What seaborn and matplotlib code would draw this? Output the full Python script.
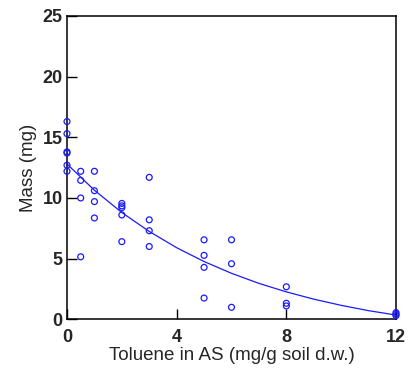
import matplotlib
matplotlib.use("Agg")
import matplotlib.pyplot as plt
import seaborn as sns
import pandas as pd

# Observed data (toluene dose vs mass)
toluene = [0, 0, 0, 0, 0, 0,
           0.5, 0.5, 0.5, 0.5,
           1, 1, 1, 1,
           2, 2, 2, 2, 2,
           3, 3, 3, 3,
           5, 5, 5, 5,
           6, 6, 6,
           8, 8, 8,
           12, 12, 12]
mass = [16.3, 15.3, 13.8, 13.7, 12.7, 12.2,
        12.2, 11.45, 10.0, 5.15,
        12.2, 10.6, 9.7, 8.35,
        9.55, 9.35, 9.2, 8.6, 6.4,
        11.7, 8.2, 7.3, 6.0,
        6.55, 5.27, 4.28, 1.75,
        6.55, 4.58, 0.99,
        2.68, 1.32, 1.1,
        0.55, 0.41, 0.3]

# Fitted curve
fit_x = [0, 1, 2, 3, 4, 5, 6, 7, 8, 9, 10, 11, 12]
fit_y = [12.8, 10.64, 8.8, 7.24, 5.9, 4.76, 3.79, 2.96, 2.26, 1.66, 1.15, 0.71, 0.35]

x_ticks = [0, 4, 8, 12]
y_ticks = [0, 5, 10, 15, 20, 25]

sns.set_style("white")
plt.rcParams['font.family'] = ['Liberation Sans', 'DejaVu Sans']

df = pd.DataFrame({"x": toluene, "y": mass})
fit = pd.DataFrame({"x": fit_x, "y": fit_y})

fig = plt.figure(figsize=(4.11, 3.72), dpi=100)
ax = fig.add_axes([0.163, 0.1417, 0.8005, 0.8153])

sns.lineplot(data=fit, x="x", y="y", ax=ax, color=(0.1, 0.1, 1.0), lw=0.9, clip_on=False)
sns.scatterplot(data=df, x="x", y="y", ax=ax, marker="o", s=18,
                facecolor="none", edgecolor=(0.1, 0.1, 1.0), linewidth=0.9, clip_on=False, zorder=3)

ax.set_xlim(0, 12)
ax.set_ylim(0, 25)
ax.set_xticks(x_ticks)
ax.set_yticks(y_ticks)
ax.set_xticklabels([str(t) for t in x_ticks], fontsize=13, fontweight="bold")
ax.set_yticklabels([str(t) for t in y_ticks], fontsize=13, fontweight="bold")
ax.tick_params(axis="both", direction="in", length=7, width=1, color="black",
               top=False, right=False, bottom=True, left=True)
ax.tick_params(axis="x", pad=7)
ax.tick_params(axis="y", pad=3)
for sp in ax.spines.values():
    sp.set_visible(True)
    sp.set_color("black")
    sp.set_linewidth(1.1)

ax.set_xlabel("Toluene in AS (mg/g soil d.w.)", fontsize=13.5, labelpad=1)
ax.set_ylabel("Mass (mg)", fontsize=13.5, labelpad=4)

fig.savefig("out.png", dpi=100)
